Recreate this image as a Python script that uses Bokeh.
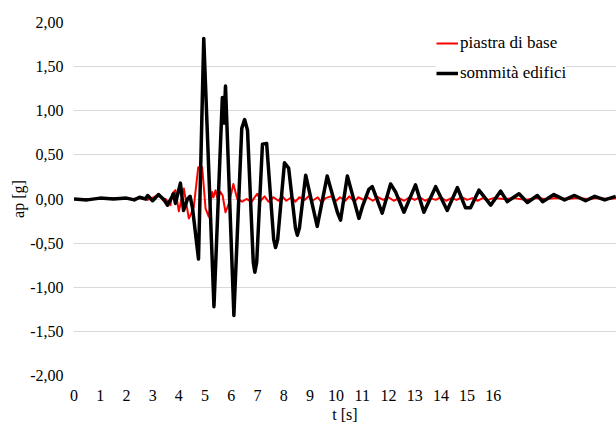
from bokeh.plotting import figure
from bokeh.models import Range1d, FixedTicker, CustomJSTickFormatter, Legend, LegendItem
from bokeh.embed import file_html
from bokeh.resources import INLINE

# --- data ---
t_base = [0.0, 0.8, 1.6, 2.2, 2.65, 2.81, 3.05, 3.24, 3.38, 3.49, 3.68, 3.75, 3.87, 4.00, 4.19,
          4.38, 4.45, 4.57, 4.74, 4.89, 5.02, 5.14, 5.27, 5.32, 5.40, 5.48, 5.59, 5.67, 5.78, 5.91,
          6.08, 6.23, 6.42, 6.58, 6.78, 6.99, 7.12, 7.27, 7.42, 7.61, 7.80, 7.95, 8.10, 8.30, 8.45,
          8.60, 8.80, 8.95, 9.10, 9.30, 9.45, 9.60, 9.80, 10.00, 10.15, 10.35, 10.50, 10.70, 10.85, 11.05,
          11.20, 11.40, 11.60, 11.80, 12.00, 12.20, 12.40, 12.60, 12.80, 13.00, 13.20, 13.40, 13.60, 13.80, 14.00,
          14.20, 14.40, 14.60, 14.80, 15.00, 15.20, 15.40, 15.60, 15.80, 16.00, 16.40, 16.80, 17.20, 17.60, 18.00,
          18.40, 18.80, 19.20, 19.60, 20.00, 20.40, 20.70]
ap_base = [0.0, 0.0, 0.01, 0.0, 0.01, -0.01, 0.02, 0.06, -0.01, 0.0, -0.07, 0.06, 0.10, -0.14, 0.12,
           -0.22, -0.18, -0.09, 0.36, 0.36, -0.11, -0.20, 0.08, 0.02, 0.10, 0.0, 0.08, 0.04, -0.15, -0.05,
           0.17, 0.0, -0.03, 0.0, -0.03, 0.06, -0.02, 0.03, -0.03, 0.02, -0.02, 0.03, -0.02, 0.02, -0.03,
           0.02, -0.01, 0.03, -0.02, 0.02, -0.04, 0.01, 0.03, -0.02, 0.02, -0.02, 0.03, -0.03, 0.02, -0.01,
           0.02, -0.02, 0.02, -0.01, 0.02, -0.02, 0.01, -0.02, 0.02, -0.01, 0.02, -0.02, 0.01, -0.01, 0.02,
           -0.02, 0.01, -0.01, 0.02, -0.01, 0.01, -0.02, 0.01, -0.01, 0.01, 0.0, 0.01, -0.01, 0.01, 0.0,
           0.01, 0.0, 0.01, 0.0, 0.01, 0.0, 0.01]

t_top = [0.0, 0.5, 1.0, 1.5, 2.0, 2.3, 2.5, 2.73, 2.81, 3.00, 3.22, 3.41, 3.57, 3.80, 3.87,
         4.06, 4.18, 4.33, 4.43, 4.52, 4.75, 4.95, 5.34, 5.66, 5.72, 5.78, 6.10,
         6.40, 6.51, 6.62, 6.84, 6.90, 6.97, 7.19, 7.35, 7.62, 7.69, 7.77, 8.03, 8.19,
         8.45, 8.52, 8.60, 8.84, 9.28, 9.66, 10.05, 10.17, 10.43, 10.87, 11.00, 11.25, 11.38,
         11.76, 12.08, 12.27, 12.59, 13.03, 13.35, 13.80, 14.24, 14.63, 14.94, 15.13, 15.45, 15.90, 16.28, 16.53,
         16.98, 17.30, 17.68, 17.88, 18.31, 18.72, 19.10, 19.52, 19.87, 20.25, 20.67]
ap_top = [0.0, -0.01, 0.01, 0.0, 0.01, -0.01, 0.02, 0.0, 0.04, -0.02, 0.05, 0.0, -0.07, 0.06, -0.05,
          0.18, -0.13, 0.0, 0.03, -0.10, -0.68, 1.82, -1.22, 1.15, 0.86, 1.28, -1.32,
          0.80, 0.90, 0.78, -0.72, -0.83, -0.72, 0.62, 0.63, -0.46, -0.55, -0.46, 0.41, 0.35,
          -0.33, -0.41, -0.33, 0.27, -0.31, 0.26, -0.15, -0.24, 0.26, -0.22, -0.09, 0.11, 0.14,
          -0.16, 0.17, 0.08, -0.15, 0.16, -0.15, 0.14, -0.13, 0.13, -0.10, -0.10, 0.10, -0.07, 0.09, -0.03,
          0.06, -0.04, 0.04, -0.03, 0.05, -0.01, 0.04, -0.02, 0.03, -0.01, 0.03]

x_ticks = list(range(0, 17))
y_ticks = [-2.0, -1.5, -1.0, -0.5, 0.0, 0.5, 1.0, 1.5, 2.0]
series_labels = ["piastra di base", "sommità edifici"]
x_label = "t [s]"
y_label = "ap [g]"

FONT = "Liberation Serif"
FS = "16px"

p = figure(width=616, height=425, output_backend="svg", toolbar_location=None,
           x_range=Range1d(-0.02, 20.7), y_range=Range1d(-2.0, 2.0),
           min_border_left=73, min_border_right=0, min_border_top=22, min_border_bottom=50)
p.outline_line_color = None
p.background_fill_color = "white"
p.border_fill_color = "white"

r_base = p.line(t_base, ap_base, line_color="#ff0000", line_width=2, line_join="round")
r_top = p.line(t_top, ap_top, line_color="#000000", line_width=3.5, line_join="round")

p.xgrid.grid_line_color = None
p.ygrid.grid_line_color = "#d9d9d9"
p.ygrid.grid_line_width = 1

for ax in (p.xaxis[0], p.yaxis[0]):
    ax.axis_line_color = None
    ax.major_tick_line_color = None
    ax.minor_tick_line_color = None
    ax.major_tick_out = 0
    ax.major_tick_in = 0
    ax.minor_tick_out = 0
    ax.minor_tick_in = 0
    ax.major_label_text_font = FONT
    ax.major_label_text_font_size = FS
    ax.major_label_text_color = "#000000"
    ax.axis_label_text_font = FONT
    ax.axis_label_text_font_size = FS
    ax.axis_label_text_font_style = "normal"
    ax.axis_label_text_color = "#000000"

p.xaxis.ticker = FixedTicker(ticks=x_ticks)
p.xaxis.axis_label = x_label
p.xaxis.major_label_standoff = 14
p.xaxis.axis_label_standoff = 2

p.yaxis.ticker = FixedTicker(ticks=y_ticks)
p.yaxis.formatter = CustomJSTickFormatter(code="return tick.toFixed(2).replace('.', ',');")
p.yaxis.axis_label = y_label
p.yaxis.major_label_standoff = 10
p.yaxis.axis_label_standoff = 0

legend = Legend(items=[LegendItem(label=series_labels[0], renderers=[r_base]),
                       LegendItem(label=series_labels[1], renderers=[r_top])],
                location=(363, 292))
legend.background_fill_color = "white"
legend.background_fill_alpha = 1.0
legend.border_line_color = None
legend.label_text_font = FONT
legend.label_text_font_size = "17px"
legend.label_text_color = "#000000"
legend.glyph_width = 22
legend.glyph_height = 18
legend.label_height = 18
legend.label_standoff = 2
legend.spacing = 10
legend.padding = 4
legend.margin = 0
p.add_layout(legend)

open("out.html", "w").write(file_html(p, INLINE))
